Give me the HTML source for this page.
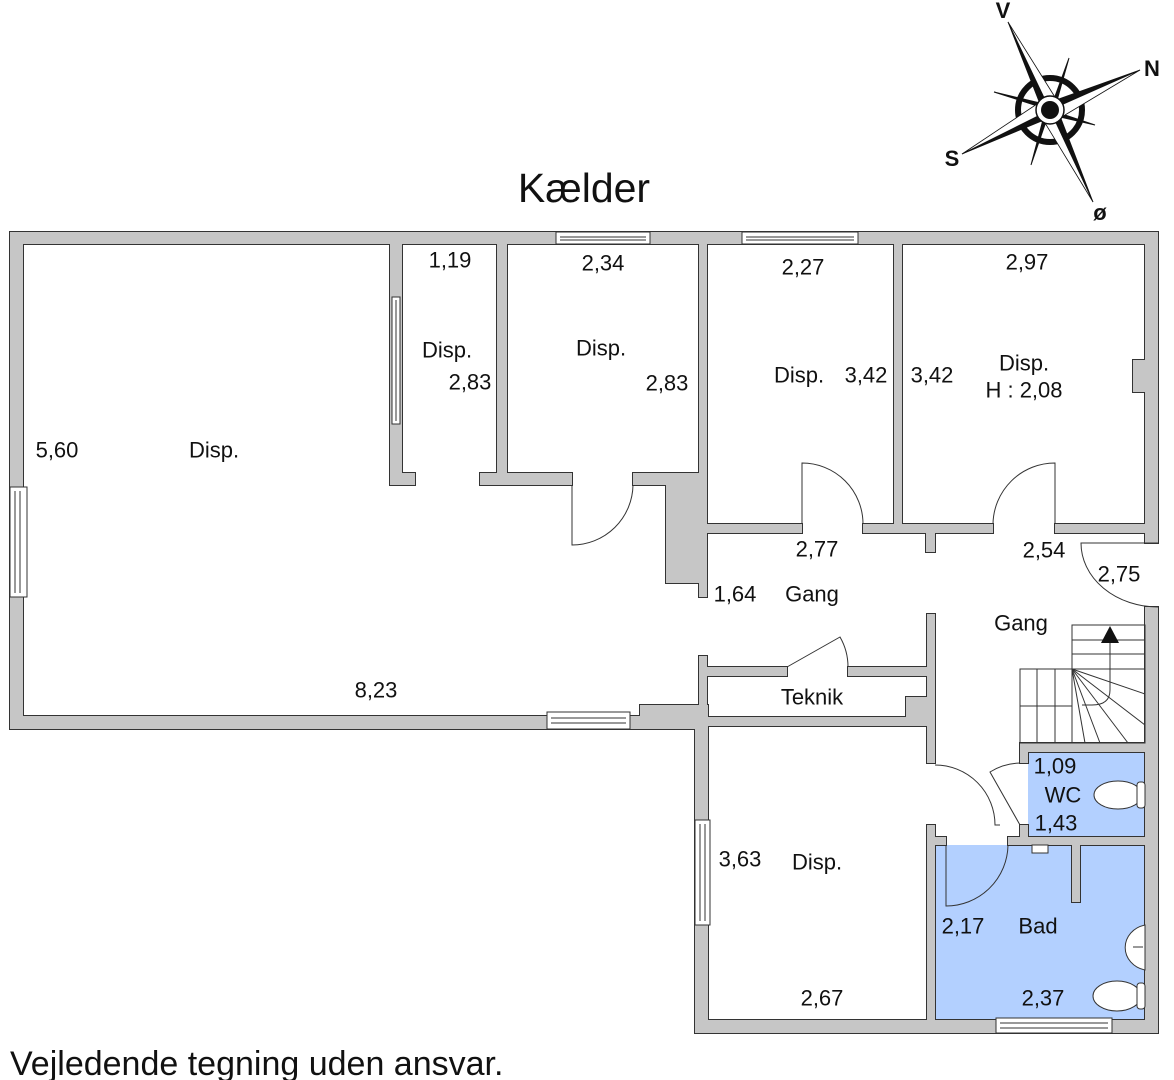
<!DOCTYPE html>
<html><head><meta charset="utf-8"><style>
html,body{margin:0;padding:0;background:#fff;}
svg{display:block;}
text{font-family:"Liberation Sans",sans-serif;fill:#111;}
</style></head><body>
<svg width="1174" height="1080" viewBox="0 0 1174 1080" xmlns="http://www.w3.org/2000/svg">
<rect width="1174" height="1080" fill="#fff"/>
<rect x="1028" y="752" width="118" height="85" fill="#b3d0ff"/>
<rect x="935" y="845" width="211" height="178" fill="#b3d0ff"/>
<defs>
<g id="walls">
<rect x="10" y="232" width="1148" height="12"/>
<rect x="10" y="232" width="13" height="497"/>
<rect x="10" y="716" width="632" height="13"/>
<rect x="640" y="705" width="68" height="24"/>
<rect x="695" y="705" width="13" height="328"/>
<rect x="695" y="1020" width="463" height="13"/>
<rect x="1145" y="232" width="13" height="311"/>
<rect x="1145" y="607" width="13" height="426"/>
<rect x="390" y="244" width="12" height="241"/>
<rect x="390" y="473" width="25" height="12"/>
<rect x="497" y="244" width="10" height="241"/>
<rect x="480" y="473" width="27" height="12"/>
<rect x="505" y="473" width="67" height="12"/>
<rect x="633" y="473" width="35" height="12"/>
<rect x="666" y="473" width="33" height="110"/>
<rect x="699" y="244" width="8" height="353"/>
<rect x="707" y="524" width="95" height="9"/>
<rect x="863" y="524" width="39" height="9"/>
<rect x="894" y="244" width="8" height="289"/>
<rect x="902" y="524" width="91" height="9"/>
<rect x="1055" y="524" width="90" height="9"/>
<rect x="926" y="524" width="9" height="28"/>
<rect x="1133" y="360" width="12" height="32"/>
<rect x="699" y="656" width="8" height="60"/>
<rect x="707" y="667" width="80" height="9"/>
<rect x="848" y="667" width="79" height="9"/>
<rect x="927" y="614" width="8" height="149"/>
<rect x="707" y="717" width="228" height="9"/>
<rect x="906" y="697" width="21" height="25"/>
<rect x="927" y="825" width="8" height="208"/>
<rect x="1020" y="743" width="125" height="9"/>
<rect x="1020" y="743" width="8" height="20"/>
<rect x="1020" y="825" width="8" height="20"/>
<rect x="927" y="837" width="19" height="8"/>
<rect x="1008" y="837" width="137" height="8"/>
<rect x="1072" y="845" width="8" height="57"/>
</g>
</defs>
<use href="#walls" fill="#c6c6c6" stroke="#333" stroke-width="2"/>
<use href="#walls" fill="#c6c6c6" stroke="none"/>
<g fill="#fff" stroke="#333" stroke-width="1">
<rect x="556" y="232" width="94" height="12"/><line x1="560" y1="237" x2="646" y2="237"/><line x1="560" y1="240" x2="646" y2="240"/>
<rect x="742" y="232" width="116" height="12"/><line x1="746" y1="237" x2="854" y2="237"/><line x1="746" y1="240" x2="854" y2="240"/>
<rect x="10" y="487" width="17" height="110"/><line x1="15" y1="491" x2="15" y2="593"/><line x1="20" y1="491" x2="20" y2="593"/>
<rect x="392" y="297" width="8" height="127"/><line x1="396" y1="300" x2="396" y2="421"/>
<rect x="547" y="712" width="83" height="17"/><line x1="551" y1="718" x2="626" y2="718"/><line x1="551" y1="723" x2="626" y2="723"/>
<rect x="695" y="820" width="15" height="105"/><line x1="700" y1="824" x2="700" y2="921"/><line x1="705" y1="824" x2="705" y2="921"/>
<rect x="996" y="1018" width="116" height="15"/><line x1="1000" y1="1023" x2="1108" y2="1023"/><line x1="1000" y1="1028" x2="1108" y2="1028"/>
</g>
<g fill="none" stroke="#333" stroke-width="1">
<path d="M572,485 L572,545 A61,61 0 0 0 633,485"/>
<path d="M802,524 L802,463 A61,61 0 0 1 863,524"/>
<path d="M1055,524 L1055,463 A62,62 0 0 0 993,524"/>
<path d="M787,667 L840,637 A60,60 0 0 1 848,667"/>
<path d="M1158,543 L1081,543 A77,64 0 0 0 1158,607"/>
<path d="M935,765 A60,60 0 0 1 995,825 L1000,825"/>
<path d="M1020,825 L990,772 A60,60 0 0 1 1020,763"/>
<path d="M946,845 L946,906 A62,62 0 0 0 1008,845"/>
</g>
<g fill="none" stroke="#333" stroke-width="1">
<rect x="1072" y="625" width="73" height="118"/>
<line x1="1072" y1="640" x2="1145" y2="640"/>
<line x1="1072" y1="654" x2="1145" y2="654"/>
<line x1="1072" y1="669" x2="1145" y2="669"/>
<rect x="1020" y="669" width="52" height="74"/>
<line x1="1020" y1="706" x2="1072" y2="706"/>
<line x1="1037" y1="669" x2="1037" y2="743"/>
<line x1="1055" y1="669" x2="1055" y2="743"/>
<line x1="1072" y1="669" x2="1145" y2="694"/>
<line x1="1072" y1="669" x2="1145" y2="725"/>
<line x1="1072" y1="669" x2="1128" y2="743"/>
<line x1="1072" y1="669" x2="1100" y2="743"/>
<line x1="1072" y1="669" x2="1085" y2="743"/>
<path d="M1110,640 L1110,690 Q1110,705 1092,705 L1082,705"/>
</g>
<polygon points="1110,626 1101,643 1119,643" fill="#111"/>
<g fill="#fff" stroke="#333" stroke-width="1">
<ellipse cx="1118" cy="795" rx="24" ry="14"/>
<rect x="1137" y="782" width="8" height="26" rx="3"/>
<path d="M1145,925 A25,23 0 0 0 1145,970 Z"/>
<line x1="1133" y1="947" x2="1143" y2="947"/>
<ellipse cx="1117" cy="996" rx="24" ry="15"/>
<rect x="1137" y="983" width="8" height="26" rx="3"/>
<rect x="1032" y="845" width="16" height="8"/>
</g>
<g>
<circle cx="1050" cy="110" r="32" fill="none" stroke="#111" stroke-width="6"/>
<g stroke="#111" stroke-width="1">
<polygon points="1050,110 1069,58 1056,104" fill="#111"/>
<polygon points="1050,110 1095,125 1056,116" fill="#111"/>
<polygon points="1050,110 1031,165 1044,116" fill="#111"/>
<polygon points="1050,110 994,92 1044,104" fill="#111"/>
</g>
<polygon points="1008,22 1050,110 1040,104" fill="#111" stroke="#111" stroke-width="0.8"/>
<polygon points="1008,22 1050,110 1058,102" fill="#fff" stroke="#111" stroke-width="0.8"/>
<polygon points="1140,70 1050,110 1056,100" fill="#111" stroke="#111" stroke-width="0.8"/>
<polygon points="1140,70 1050,110 1060,118" fill="#fff" stroke="#111" stroke-width="0.8"/>
<polygon points="962,154 1050,110 1044,120" fill="#111" stroke="#111" stroke-width="0.8"/>
<polygon points="962,154 1050,110 1040,102" fill="#fff" stroke="#111" stroke-width="0.8"/>
<polygon points="1093,202 1050,110 1060,116" fill="#111" stroke="#111" stroke-width="0.8"/>
<polygon points="1093,202 1050,110 1042,118" fill="#fff" stroke="#111" stroke-width="0.8"/>
<circle cx="1050" cy="110" r="14" fill="#fff" stroke="#111" stroke-width="1.5"/>
<circle cx="1050" cy="110" r="9" fill="#111"/>
</g>
<g font-size="22" font-weight="bold">
<text x="1003" y="18" text-anchor="middle">V</text>
<text x="1152" y="76" text-anchor="middle">N</text>
<text x="952" y="166" text-anchor="middle">S</text>
<text x="1100" y="220" text-anchor="middle">ø</text>
</g>
<g font-size="22" text-anchor="middle" dominant-baseline="central">
<text x="450" y="260">1,19</text>
<text x="603" y="263">2,34</text>
<text x="803" y="267">2,27</text>
<text x="1027" y="262">2,97</text>
<text x="447" y="350">Disp.</text>
<text x="470" y="382">2,83</text>
<text x="601" y="348">Disp.</text>
<text x="667" y="383">2,83</text>
<text x="799" y="375">Disp.</text>
<text x="866" y="375">3,42</text>
<text x="932" y="375">3,42</text>
<text x="1024" y="363">Disp.</text>
<text x="1024" y="390">H : 2,08</text>
<text x="57" y="450">5,60</text>
<text x="214" y="450">Disp.</text>
<text x="817" y="549">2,77</text>
<text x="1044" y="550">2,54</text>
<text x="1119" y="574">2,75</text>
<text x="735" y="594">1,64</text>
<text x="812" y="594">Gang</text>
<text x="1021" y="623">Gang</text>
<text x="812" y="697">Teknik</text>
<text x="376" y="690">8,23</text>
<text x="1055" y="766">1,09</text>
<text x="1063" y="795">WC</text>
<text x="1056" y="823">1,43</text>
<text x="740" y="859">3,63</text>
<text x="817" y="862">Disp.</text>
<text x="963" y="926">2,17</text>
<text x="1038" y="926">Bad</text>
<text x="1043" y="998">2,37</text>
<text x="822" y="998">2,67</text>
</g>
<text x="584" y="202" font-size="41" text-anchor="middle">Kælder</text>
<text x="10" y="1075" font-size="34">Vejledende tegning uden ansvar.</text>
</svg>
</body></html>
